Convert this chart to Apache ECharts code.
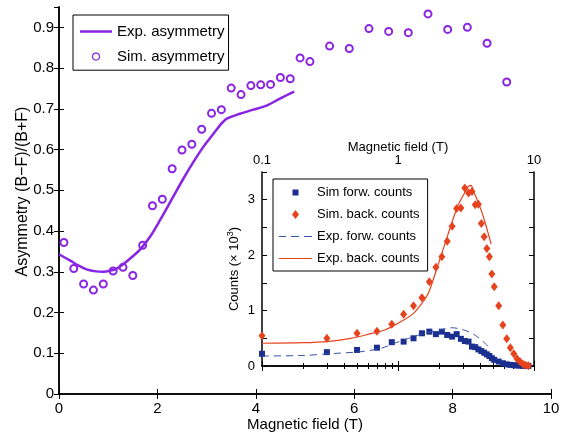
<!DOCTYPE html>
<html>
	<head>
		<meta charset="utf-8">
		<title>Asymmetry</title>
		<style>
		html,body { height:100%; width:100%; margin:0; padding:0; background:#fff; }
		</style>
		<script src="https://cdn.jsdelivr.net/npm/echarts@6/dist/echarts.min.js"></script>
	</head>
	<body>
		<div id="main" style="height:436px;width:569px;"></div>
		<script type="text/javascript">
			// field values (T) of the simulation points
			var simField = [0.1, 0.3, 0.5, 0.7, 0.9, 1.1, 1.3, 1.5, 1.7, 1.9, 2.1, 2.3, 2.5, 2.7, 2.9, 3.1, 3.3, 3.5, 3.7, 3.9,
				4.1, 4.3, 4.5, 4.7, 4.9, 5.1, 5.5, 5.9, 6.3, 6.7, 7.1, 7.5, 7.9, 8.3, 8.7, 9.1];
			var simAsym = [0.372, 0.308, 0.27, 0.255, 0.27, 0.302, 0.311, 0.291, 0.365, 0.462, 0.478, 0.553, 0.599, 0.613, 0.65, 0.689,
				0.698, 0.751, 0.735, 0.757, 0.759, 0.76, 0.777, 0.774, 0.825, 0.816, 0.854, 0.848, 0.897, 0.89, 0.887, 0.933, 0.895, 0.9, 0.861, 0.766];
			var simForw = [0.22, 0.25, 0.29, 0.33, 0.43, 0.44, 0.5, 0.59, 0.62, 0.575, 0.62, 0.56, 0.53, 0.575, 0.49, 0.45,
				0.44, 0.35, 0.34, 0.3, 0.27, 0.24, 0.21, 0.18, 0.14, 0.11, 0.08, 0.05, 0.03, 0.02, 0.015, 0.01, 0.008, 0.005, 0.003, 0.002];
			var simBack = [0.545, 0.5, 0.59, 0.625, 0.755, 0.935, 1.085, 1.23, 1.52, 1.78, 1.97, 2.25, 2.52, 2.84, 2.85, 3.21,
				3.12, 3.15, 2.91, 2.92, 2.57, 2.33, 2.12, 1.97, 1.66, 1.43, 1.085, 0.74, 0.49, 0.33, 0.22, 0.13, 0.077, 0.036, 0.013, 0.005];

			// measured asymmetry
			var expField = [0, 0.22, 0.4, 0.56, 0.75, 0.9, 1.05, 1.17, 1.3, 1.5, 1.65, 1.85, 2.05, 2.32, 2.53, 2.73, 2.93, 3.14,
				3.31, 3.41, 3.68, 3.95, 4.22, 4.49, 4.78];
			var expAsym = [0.343, 0.328, 0.315, 0.306, 0.301, 0.3, 0.303, 0.308, 0.318, 0.338, 0.355, 0.386, 0.426, 0.484, 0.529,
				0.569, 0.606, 0.639, 0.665, 0.676, 0.688, 0.698, 0.708, 0.725, 0.742];

			// measured counts (x 10^3)
			var expForwField = [0.1, 0.2, 0.31, 0.54, 0.75, 0.94, 1.2, 1.56, 2.12, 2.5, 3.05, 3.5, 3.82, 4.4, 4.8];
			var expForw = [0.18, 0.19, 0.22, 0.26, 0.32, 0.41, 0.5, 0.59, 0.66, 0.69, 0.65, 0.59, 0.53, 0.4, 0.3];
			var expBackField = [0.1, 0.2, 0.3, 0.45, 0.6, 0.8, 1.0, 1.3, 1.56, 1.69, 1.95, 2.3, 2.73, 3.05, 3.3, 3.45, 3.6, 3.82,
				4.05, 4.27, 4.5, 4.84];
			var expBack = [0.41, 0.42, 0.44, 0.5, 0.57, 0.65, 0.77, 0.95, 1.19, 1.34, 1.79, 2.33, 2.87, 3.1, 3.24, 3.26, 3.14, 3.0,
				2.84, 2.67, 2.48, 2.2];

			var purple = '#8a24e4';
			var red = '#e5431d';
			var blue = '#1a2f8f';
			var dashBlue = '#3550ad';
			var font = 'Liberation Sans';

			function pairs(xs, ys) {
				return xs.map(function (x, i) { return [x, ys[i]]; });
			}

			var tickIn = { inside: true, length: 5, lineStyle: { color: '#000', width: 1 } };
			var lineBlack = { lineStyle: { color: '#000', width: 1.5 } };

			var myChart = echarts.init(document.getElementById('main'), null, { renderer: 'canvas' });
			var option = {
				animation: false,
				textStyle: { fontFamily: font, color: '#000' },
				grid: [
					{ left: 59, top: 7, width: 492, height: 387, outerBoundsMode: 'none' },
					{ left: 262, top: 172, width: 272, height: 194, outerBoundsMode: 'none',
						show: true, backgroundColor: '#fff', borderWidth: 0 }
				],
				legend: [{
					data: [
						{ name: 'Exp. asymmetry', icon: 'path://M0,0h32v2.5h-32z' },
						{ name: 'Sim. asymmetry', icon: 'path://M0,0M14,14M10.5,7A3.5,3.5,0,1,1,3.5,7A3.5,3.5,0,1,1,10.5,7Z',
							itemStyle: { color: '#fff', borderColor: purple, borderWidth: 1.2 } }
					],
					orient: 'vertical', left: 73, top: 15,
					padding: [9, 4, 6, 7], itemWidth: 32, itemHeight: 14, itemGap: 10,
					borderColor: '#000', borderWidth: 1, backgroundColor: '#fff',
					textStyle: { fontSize: 15, fontFamily: font, color: '#000' }
				}, {
					data: [
						{ name: 'Sim forw. counts', icon: 'path://M0,0M12,12M3,3h6v6h-6z' },
						{ name: 'Sim. back. counts', icon: 'path://M0,0M12,12M6,1.5L9.5,6L6,10.5L2.5,6Z' },
						{ name: 'Exp. forw. counts', icon: 'path://M0,0h7v1h-7zM12,0h8v1h-8zM25,0h8v1h-8z' },
						{ name: 'Exp. back. counts', icon: 'path://M0,0h33v1.2h-33z' }
					],
					orient: 'vertical', left: 273, top: 179,
					padding: [7, 8, 6, 6], itemWidth: 33, itemHeight: 12, itemGap: 9,
					borderColor: '#000', borderWidth: 1, backgroundColor: '#fff',
					textStyle: { fontSize: 13, fontFamily: font, color: '#000' }
				}],
				xAxis: [{
					gridIndex: 0, type: 'value', min: 0, max: 10, interval: 2,
					axisLine: lineBlack, axisTick: tickIn, splitLine: { show: false },
					axisLabel: { fontSize: 15, margin: 7, color: '#000' },
					name: 'Magnetic field (T)', nameLocation: 'middle', nameGap: 23, nameMoveOverlap: false,
					nameTextStyle: { fontSize: 15, color: '#000' }
				}, {
					gridIndex: 0, type: 'value', min: 0, max: 10, interval: 2, position: 'top',
					axisLine: lineBlack, axisTick: tickIn, splitLine: { show: false },
					axisLabel: { show: false }
				}, {
					gridIndex: 1, type: 'log', logBase: 10, min: 0.1, max: 10, position: 'top',
					axisLine: lineBlack, axisTick: tickIn, splitLine: { show: false },
					minorTick: { show: true, splitNumber: 9, length: 3, lineStyle: { color: '#000' } },
					axisLabel: { fontSize: 13, margin: 5, color: '#000' },
					name: 'Magnetic field (T)', nameLocation: 'middle', nameGap: 18, nameMoveOverlap: false,
					nameTextStyle: { fontSize: 13, color: '#000' }
				}, {
					gridIndex: 1, type: 'log', logBase: 10, min: 0.1, max: 10, position: 'bottom',
					axisLine: lineBlack, axisTick: tickIn, splitLine: { show: false },
					minorTick: { show: true, splitNumber: 9, length: 3, lineStyle: { color: '#000' } },
					axisLabel: { show: false }
				}],
				yAxis: [{
					gridIndex: 0, type: 'value', min: 0, max: 0.95, interval: 0.1,
					axisLine: lineBlack, axisTick: tickIn, splitLine: { show: false },
					axisLabel: { fontSize: 15, margin: 5, color: '#000', showMaxLabel: false,
						formatter: function (v) { return v === 0 ? '0' : v.toFixed(1); } },
					name: 'Asymmetry (B\u2212F)/(B+F)', nameLocation: 'middle', nameGap: 28, nameMoveOverlap: false,
					nameTextStyle: { fontSize: 16, color: '#000', padding: [0, 0, 0, 18] }
				}, {
					gridIndex: 0, type: 'value', min: 0, max: 0.95, interval: 0.1, position: 'right',
					axisLine: lineBlack, axisTick: tickIn, splitLine: { show: false },
					axisLabel: { show: false }
				}, {
					gridIndex: 1, type: 'value', min: 0, max: 3.5, interval: 0.5,
					axisLine: lineBlack, axisTick: tickIn, splitLine: { show: false },
					axisLabel: { fontSize: 13, margin: 7, color: '#000',
						formatter: function (v) { return Number.isInteger(v) ? String(v) : ''; } },
					name: '{a|Counts (\u00d7 10}{s|3}{a|)}', nameLocation: 'middle', nameGap: 20, nameMoveOverlap: false,
					nameTextStyle: { rich: {
						a: { fontSize: 13, fontFamily: font, color: '#000' },
						s: { fontSize: 9, fontFamily: font, color: '#000', padding: [0, 0, 7, 0] }
					} }
				}, {
					gridIndex: 1, type: 'value', min: 0, max: 3.5, interval: 0.5, position: 'right',
					axisLine: lineBlack, axisTick: tickIn, splitLine: { show: false },
					axisLabel: { show: false }
				}],
				series: [{
					name: 'Exp. asymmetry', type: 'line', xAxisIndex: 0, yAxisIndex: 0,
					data: pairs(expField, expAsym), symbol: 'none', smooth: 0.3,
					lineStyle: { color: purple, width: 2.5 }, itemStyle: { color: purple }
				}, {
					name: 'Sim. asymmetry', type: 'scatter', xAxisIndex: 0, yAxisIndex: 0,
					data: pairs(simField, simAsym), symbol: 'emptyCircle', symbolSize: 7,
					itemStyle: { color: purple, borderColor: purple, borderWidth: 1.2, opacity: 1 }
				}, {
					name: 'Sim forw. counts', type: 'scatter', xAxisIndex: 2, yAxisIndex: 2,
					data: pairs(simField, simForw), symbol: 'rect', symbolSize: 6,
					itemStyle: { color: blue, opacity: 1 }
				}, {
					name: 'Sim. back. counts', type: 'scatter', xAxisIndex: 2, yAxisIndex: 2,
					data: pairs(simField, simBack), symbol: 'diamond', symbolSize: [7, 9],
					itemStyle: { color: red, opacity: 1 }
				}, {
					name: 'Exp. forw. counts', type: 'line', xAxisIndex: 2, yAxisIndex: 2,
					data: pairs(expForwField, expForw), symbol: 'none', smooth: 0.3,
					lineStyle: { color: dashBlue, width: 1, type: [7, 5] }, itemStyle: { color: dashBlue }
				}, {
					name: 'Exp. back. counts', type: 'line', xAxisIndex: 2, yAxisIndex: 2,
					data: pairs(expBackField, expBack), symbol: 'none', smooth: 0.3,
					lineStyle: { color: red, width: 1.2 }, itemStyle: { color: red }
				}]
			};
			myChart.setOption(option);
		</script>
	</body>
</html>
